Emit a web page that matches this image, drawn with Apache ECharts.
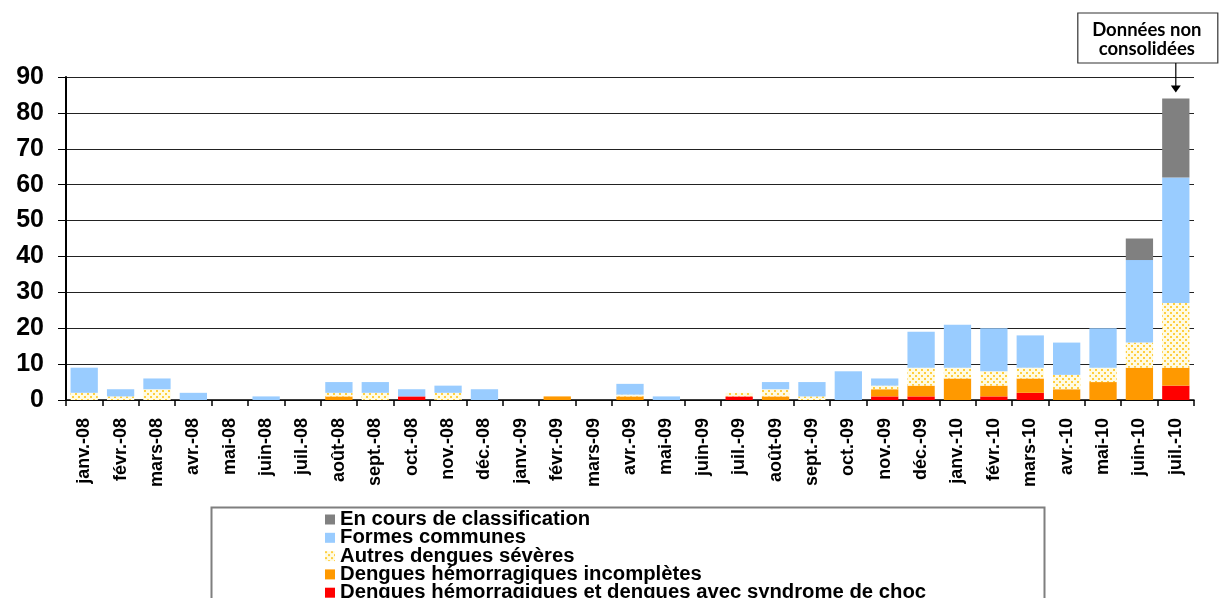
<!DOCTYPE html>
<html>
<head>
<meta charset="utf-8">
<script src="https://cdn.jsdelivr.net/npm/echarts@6/dist/echarts.min.js"></script>
<style>
html,body{margin:0;padding:0;background:#fff;}
#c{width:1221px;height:598px;}
</style>
</head>
<body>
<div id="c"></div>
<script>
const categories = ['janv.-08','févr.-08','mars-08','avr.-08','mai-08','juin-08','juil.-08','août-08','sept.-08','oct.-08','nov.-08','déc.-08',
  'janv.-09','févr.-09','mars-09','avr.-09','mai-09','juin-09','juil.-09','août-09','sept.-09','oct.-09','nov.-09','déc.-09',
  'janv.-10','févr.-10','mars-10','avr.-10','mai-10','juin-10','juil.-10'];
const yTicks = [0,10,20,30,40,50,60,70,80,90];
const choc       = [0,0,0,0,0,0,0,0,0,1,0,0, 0,0,0,0,0,0,1,0,0,0,1,1, 0,1,2,0,0,0,4];
const incompletes= [0,0,0,0,0,0,0,1,0,0,0,0, 0,1,0,1,0,0,0,1,0,0,2,3, 6,3,4,3,5,9,5];
const autres     = [2,1,3,0,0,0,0,1,2,0,2,0, 0,0,0,0.5,0,0,1,2,1,0,1,5, 3,4,3,4,4,7,18];
const communes   = [7,2,3,2,0,1,0,3,3,2,2,3, 0,0,0,3,1,0,0,2,4,8,2,10, 12,12,9,9,11,23,35];
const enCours    = [0,0,0,0,0,0,0,0,0,0,0,0, 0,0,0,0,0,0,0,0,0,0,0,0, 0,0,0,0,0,6,22];
const seriesNames = ['Dengues hémorragiques et dengues avec syndrome de choc','Dengues hémorragiques incomplètes','Autres dengues sévères','Formes communes','En cours de classification'];
const annotationLines = ['Données non','consolidées'];

// dotted pattern
const pc = document.createElement('canvas');
pc.width = 6; pc.height = 6;
const pctx = pc.getContext('2d');
pctx.fillStyle = '#FFFBE3'; pctx.fillRect(0,0,6,6);
pctx.fillStyle = '#FFCF40';
pctx.fillRect(0,0,2,2); pctx.fillRect(3,3,2,2);
const dotted = {image: pc, repeat: 'repeat'};

const colors = ['#FF0000','#FF9900',dotted,'#99CCFF','#808080'];
const datasets = [choc, incompletes, autres, communes, enCours];

const chart = echarts.init(document.getElementById('c'));
const font = 'Liberation Sans, Arial, sans-serif';
const legendOrder = seriesNames.slice().reverse();
const option = {
  animation: false,
  grid: {left: 66, right: 27, top: 77, bottom: 198, containLabel: false},
  legend: legendOrder.map((name, k) => ({
    orient: 'vertical', left: 325, top: 509.5 + k * 18.3,
    itemWidth: 10, itemHeight: 10, itemGap: 0, itemTextGap: 5,
    icon: 'rect', padding: 0,
    data: [name],
    textStyle: {fontFamily: font, fontWeight: 'bold', fontSize: 20.3, lineHeight: 14, color: '#000'}
  })),
  xAxis: {
    type: 'category', data: categories,
    axisLine: {lineStyle: {color: '#000', width: 1.5}},
    axisTick: {show: true, length: 6, lineStyle: {color: '#000', width: 1.5}, alignWithLabel: false},
    axisLabel: {rotate: 90, interval: 0, margin: 18, fontFamily: font, fontWeight: 'bold', fontSize: 18, color: '#000'}
  },
  yAxis: {
    type: 'value', min: 0, max: 90, interval: 10,
    axisLine: {show: true, lineStyle: {color: '#000', width: 2}},
    axisTick: {show: true, length: 8, lineStyle: {color: '#000', width: 1}},
    axisLabel: {margin: 22, fontFamily: font, fontWeight: 'bold', fontSize: 25, color: '#000',
      formatter: v => yTicks.indexOf(v) >= 0 ? String(v) : ''},
    splitLine: {show: true, lineStyle: {color: '#222', width: 1}}
  },
  series: datasets.map((d, i) => ({
    name: seriesNames[i], type: 'bar', stack: 'total', data: d,
    barWidth: '75%',
    itemStyle: {color: colors[i]},
    emphasis: {disabled: true}
  }))
};
chart.setOption(option);

// annotation tied to last bar
const lastIdx = categories.length - 1;
const lastTotal = datasets.reduce((s, d) => s + d[lastIdx], 0);
const px = chart.convertToPixel({xAxisIndex: 0}, categories[lastIdx]);
const pyTop = chart.convertToPixel({yAxisIndex: 0}, lastTotal);
const boxLeft = px - 98, boxTop = 13, boxW = 140, boxH = 50;
const afont = 'Lato, Open Sans, sans-serif';
chart.setOption({
  graphic: [
    {type: 'rect', left: 209, top: 505, shape: {x: 0, y: 0, width: 833, height: 200},
     style: {fill: 'none', stroke: '#7f7f7f', lineWidth: 2}, silent: true},
    {type: 'rect', shape: {x: boxLeft, y: boxTop, width: boxW, height: boxH},
     style: {fill: '#fff', stroke: '#333', lineWidth: 1.2}, silent: true},
    {type: 'text', x: boxLeft + boxW/2 - 1, y: boxTop + 17.5, silent: true,
     style: {text: annotationLines[0], fontFamily: afont, fontWeight: 'bold', fontSize: 18.5, fill: '#000', align: 'center', verticalAlign: 'middle'}},
    {type: 'text', x: boxLeft + boxW/2 - 1, y: boxTop + 36.5, silent: true,
     style: {text: annotationLines[1], fontFamily: afont, fontWeight: 'bold', fontSize: 18.5, fill: '#000', align: 'center', verticalAlign: 'middle'}},
    {type: 'line', shape: {x1: px, y1: boxTop + boxH, x2: px, y2: pyTop - 12}, style: {stroke: '#000', lineWidth: 1.2}, silent: true},
    {type: 'polygon', shape: {points: [[px - 5, pyTop - 13], [px + 5, pyTop - 13], [px, pyTop - 6]]}, style: {fill: '#000'}, silent: true}
  ]
});
</script>
</body>
</html>
